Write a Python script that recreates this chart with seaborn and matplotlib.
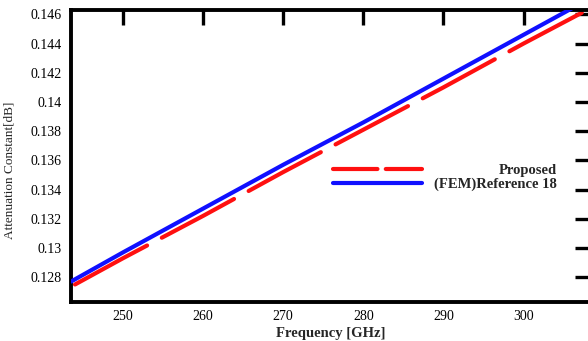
import matplotlib
matplotlib.use("Agg")
import matplotlib.pyplot as plt
from matplotlib.lines import Line2D
import seaborn as sns
import pandas as pd

# ---- data ----
freq_fem = [243.5, 250, 260, 270, 280, 290, 300, 310]
atten_fem = [0.1277, 0.1297, 0.1327, 0.1357, 0.1386, 0.1416, 0.1446, 0.1476]
freq_prop = [244, 250, 260, 270, 280, 290, 300, 310]
atten_prop = [0.1275, 0.1293, 0.1322, 0.1352, 0.1381, 0.1410, 0.1440, 0.1469]
x_ticks = [250, 260, 270, 280, 290, 300]
y_ticks = [0.128, 0.130, 0.132, 0.134, 0.136, 0.138, 0.140, 0.142, 0.144, 0.146]
y_tick_labels = ["0.128", "0.13", "0.132", "0.134", "0.136", "0.138", "0.14", "0.142", "0.144", "0.146"]
series_names = ["Proposed", "(FEM)Reference 18"]

sns.set_theme(style="white")
plt.rcParams["font.family"] = ["Liberation Serif", "DejaVu Serif"]
plt.rcParams["lines.scale_dashes"] = False

fig = plt.figure(figsize=(5.88, 3.41), dpi=100)
ax = fig.add_axes([71 / 588, 1 - 302 / 341, (590 - 71) / 588, (302 - 10) / 341])

df_fem = pd.DataFrame({"f": freq_fem, "a": atten_fem})
df_prop = pd.DataFrame({"f": freq_prop, "a": atten_prop})

sns.lineplot(data=df_fem, x="f", y="a", ax=ax, color="#1010ff", lw=3.0,
             solid_capstyle="round")
sns.lineplot(data=df_prop, x="f", y="a", ax=ax, color="#ff1010", lw=3.0,
             dashes=False)
red_line = ax.lines[-1]
red_line.set_dashes((59, 12))
red_line.set_dash_capstyle("round")
ax.lines[0].set_zorder(3)

ax.set_xlim(243.5, 308.3)
ax.set_ylim(0.1263, 0.1463)
ax.set_xticks(x_ticks)
ax.set_xticklabels([str(t) for t in x_ticks])
ax.set_yticks(y_ticks)
ax.set_yticklabels(y_tick_labels)

for sp in ax.spines.values():
    sp.set_visible(True)
    sp.set_linewidth(2.8)
    sp.set_color("black")

ax.tick_params(axis="both", which="major", direction="in", length=11, width=2.4,
               colors="black", labelsize=10, top=True, right=True,
               labelcolor="black")
ax.tick_params(axis="y", pad=7)
ax.tick_params(axis="x", pad=6)

ax.set_xlabel("Frequency [GHz]", fontsize=10.5, fontweight="bold", labelpad=3)
ax.set_ylabel("Attenuation Constant[dB]", fontsize=9.5)
ax.yaxis.set_label_coords(-0.106, 0.45)

handles = [
    Line2D([], [], color="#ff1010", lw=3.0, dashes=(32, 6), dash_capstyle="round"),
    Line2D([], [], color="#1010ff", lw=3.0, solid_capstyle="round"),
]
leg = ax.legend(handles, series_names, loc="upper left",
                bbox_to_anchor=((333 - 71) / 519 - 0.012, 1 - (158 - 10) / 292),
                frameon=False, handlelength=6.1,
                handletextpad=1.2, labelspacing=0.05, borderaxespad=0,
                prop={"weight": "bold", "size": 10.5})

# right-align legend texts so they end at x = 557 px
target_right = 557
fig.canvas.draw()
for t in leg.get_texts():
    t.set_ha("right")
    t.set_position((0, 0))
fig.canvas.draw()
renderer = fig.canvas.get_renderer()
for t in leg.get_texts():
    r0 = t.get_window_extent(renderer).x1
    t.set_position((target_right - r0, 0))

fig.savefig("out.png", dpi=100)
